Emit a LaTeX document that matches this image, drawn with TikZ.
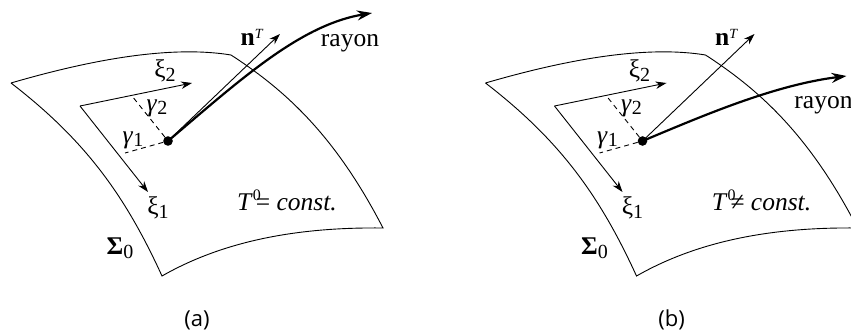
\documentclass[tikz,border=0pt]{standalone}
\usepackage{fontspec}
\setmainfont{Liberation Serif}
\newfontfamily\capfont{Open Sans}
\usepackage{tikz}
\usetikzlibrary{arrows.meta,positioning,calc}
\newcommand{\lowidx}[1]{\raisebox{-3.5pt}{\fontsize{20}{20}\selectfont #1}}
\newcommand{\sheetpanel}{%
  \coordinate (A) at (11,83);
  \coordinate (B) at (231,55);
  \coordinate (C) at (383,228);
  \coordinate (D) at (162,276);
  \coordinate (O) at (80,106);
  \coordinate (X2) at (192,83);
  \coordinate (X1) at (148,192);
  \coordinate (G2) at (132,96);
  \coordinate (G1) at (125,153);
  \coordinate (NT) at (280,34);
  \draw[edge] (A) .. controls (90,60) and (170,45) .. (B)
    .. controls (285,90) and (335,135) .. (C)
    .. controls (300,227) and (225,240) .. (D)
    .. controls (125,195) and (85,140) .. (A);
  \draw[edge,->] (O)--(X2);
  \draw[edge,->] (O)--(X1);
  \node[dot] (P) at (168,141){};
  \draw[edge,dashed,dash pattern=on 5pt off 4pt] (P)--(G2);
  \draw[edge,dashed,dash pattern=on 5pt off 4pt] (P)--(G1);
  \draw[edge,->] (P.center)--(NT);
  \node[lab] (xi2) at (165,71){ξ\lowidx{2}};
  \node[lab] (gam2) at (157,108){\textit{γ}\lowidx{2}};
  \node[lab] (gam1) at (133,140){\textit{γ}\lowidx{1}};
  \node[lab] (xi1) at (158,208){ξ\lowidx{1}};
  \node[lab] (sig) at (120,248){\textbf{Σ}\lowidx{0}};
  \node[lab] (nvec) at (252,37){\textbf{n}\raisebox{7pt}{\fontsize{14}{14}\selectfont\textit{T}}};
}
\begin{document}
\begin{tikzpicture}[x=1pt,y=-1pt,>={Stealth[length=11pt,width=7.5pt]},
  edge/.style={line width=0.9pt},
  ray/.style={line width=2.2pt,->,>={Stealth[length=15pt,width=10pt]}},
  dot/.style={circle,fill=black,inner sep=3.4pt},
  lab/.style={inner sep=0pt,font=\fontsize{25.5}{25.5}\selectfont},
  caption/.style={inner sep=0pt,font=\capfont\fontsize{22}{22}\selectfont}]
  \useasboundingbox (0,0) rectangle (851,334);
  % left sheet
  \begin{scope}[name prefix=a-]
    \sheetpanel
    \draw[ray] (P.center) .. controls (240,80) and (300,25) .. (372,13);
    \node[lab] (ray) at (350,43){rayon};
    \node[lab] (tlab) at (287,200){\textit{T}\raisebox{10pt}{\fontsize{16}{16}\selectfont 0}\kern-5pt= \textit{const.}};
    \node[caption] (cap) at (197,320){(a)};
  \end{scope}
  % right sheet
  \begin{scope}[shift={(474.5,0)},name prefix=b-]
    \sheetpanel
    \draw[ray] (P.center) .. controls (230,115) and (300,85) .. (372,76);
    \node[lab] (ray) at (349,105){rayon};
    \node[lab] (tlab) at (287,200){\textit{T}\raisebox{10pt}{\fontsize{16}{16}\selectfont 0}\kern-5pt≠ \textit{const.}};
    \node[caption] (cap) at (197,320){(b)};
  \end{scope}
\end{tikzpicture}
\end{document}
